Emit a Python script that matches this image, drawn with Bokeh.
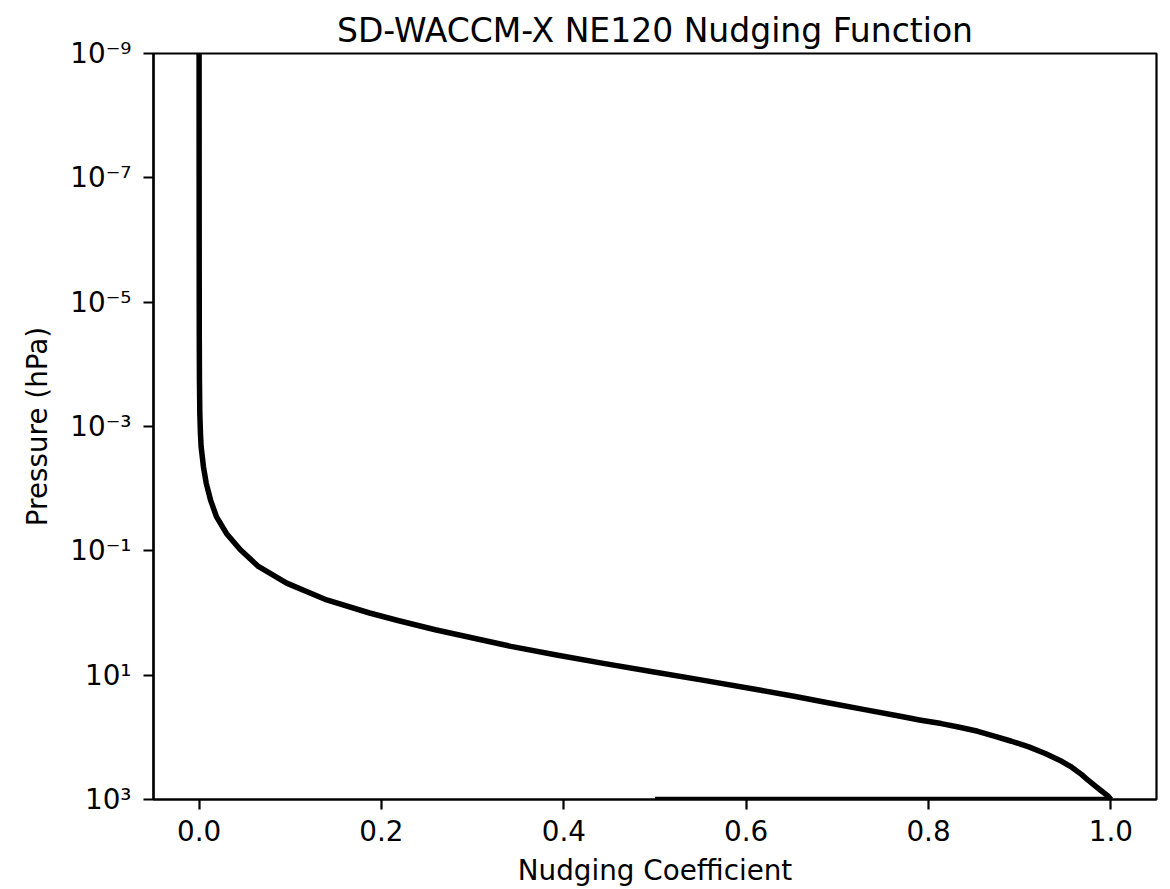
from bokeh.plotting import figure
from bokeh.models import Range1d, FixedTicker, CustomJSTickFormatter
from bokeh.embed import file_html
from bokeh.resources import INLINE

# ---------------- data ----------------
title_text = "SD-WACCM-X NE120 Nudging Function"
x_label = "Nudging Coefficient"
y_label = "Pressure (hPa)"

pressure_hpa = [1e-9, 1e-6, 3.16e-5, 1.78e-4, 6.17e-4, 1.29e-3, 2.09e-3, 4.47e-3,
                8.13e-3, 1.51e-2, 2.82e-2, 5.25e-2, 9.55e-2, 0.178, 0.331, 0.617,
                1.0, 1.32, 1.86, 3.44, 4.73, 6.53, 8.89, 12.0, 17.5, 22.1, 28.0,
                35.8, 45.9, 52.5, 60.1, 68.9, 80.0, 96.2, 115.6, 142.6, 182.4,
                242.7, 302.7, 398.1, 489.8, 610.9, 716.1, 885.1, 1000.0]
nudging_coef = [0.0, 0.0001, 0.0002, 0.0004, 0.0008, 0.0015, 0.0022, 0.0048,
                0.0078, 0.0125, 0.019, 0.030, 0.045, 0.065, 0.096, 0.140,
                0.187, 0.218, 0.259, 0.342, 0.392, 0.445, 0.499, 0.552, 0.616, 0.654, 0.691,
                0.730, 0.769, 0.790, 0.814, 0.834, 0.854, 0.873, 0.891, 0.910, 0.928,
                0.946, 0.957, 0.968, 0.975, 0.983, 0.989, 0.997, 1.0]

surface_coef = [0.5, 1.0]
surface_pressure = [1000.0, 1000.0]

x_ticks = [0.0, 0.2, 0.4, 0.6, 0.8, 1.0]
x_tick_labels = ["0.0", "0.2", "0.4", "0.6", "0.8", "1.0"]
y_ticks = [1e-9, 1e-7, 1e-5, 1e-3, 1e-1, 1e1, 1e3]
y_tick_labels = ["10\u207b\u2079", "10\u207b\u2077", "10\u207b\u2075", "10\u207b\u00b3",
                 "10\u207b\u00b9", "10\u00b9", "10\u00b3"]

# ---------------- figure ----------------
FONT = "DejaVu Sans"
p = figure(width=1170, height=889,
           x_range=Range1d(-0.05, 1.05), y_range=Range1d(1000, 1e-9),
           y_axis_type="log", output_backend="svg", toolbar_location=None,
           min_border_left=153, min_border_right=14, min_border_top=53,
           min_border_bottom=89, title=title_text)

p.title.text_font = FONT
p.title.text_font_size = "33px"
p.title.text_font_style = "normal"
p.title.text_color = "black"
p.title.align = "center"
p.title.standoff = 8

p.xgrid.visible = False
p.ygrid.visible = False
p.outline_line_color = "black"
p.outline_line_width = 2.2
p.outline_line_alpha = 1.0
p.background_fill_color = "white"
p.border_fill_color = "white"

x_fmt = CustomJSTickFormatter(args=dict(vals=x_ticks, labels=x_tick_labels), code="""
let b = 0;
for (let i = 0; i < vals.length; i++) {
  if (Math.abs(vals[i] - tick) < Math.abs(vals[b] - tick)) b = i;
}
return labels[b];
""")
y_fmt = CustomJSTickFormatter(args=dict(vals=y_ticks, labels=y_tick_labels), code="""
let b = 0;
const lt = Math.log10(tick);
for (let i = 0; i < vals.length; i++) {
  if (Math.abs(Math.log10(vals[i]) - lt) < Math.abs(Math.log10(vals[b]) - lt)) b = i;
}
return labels[b];
""")

p.xaxis.ticker = FixedTicker(ticks=x_ticks)
p.yaxis.ticker = FixedTicker(ticks=y_ticks)
p.xaxis.formatter = x_fmt
p.yaxis.formatter = y_fmt

for ax in (p.xaxis, p.yaxis):
    ax.axis_line_width = 2.2
    ax.axis_line_color = "black"
    ax.major_tick_line_width = 2.2
    ax.major_tick_line_color = "black"
    ax.major_tick_out = 10
    ax.major_tick_in = 0
    ax.minor_tick_line_color = None
    ax.major_label_text_font = FONT
    ax.major_label_text_font_size = "27.8px"
    ax.major_label_text_color = "black"
    ax.axis_label_text_font = FONT
    ax.axis_label_text_font_size = "27.8px"
    ax.axis_label_text_font_style = "normal"
    ax.axis_label_text_color = "black"

p.xaxis.axis_label = x_label
p.yaxis.axis_label = y_label
p.xaxis.major_label_standoff = 10
p.xaxis.axis_label_standoff = 10
p.yaxis.major_label_standoff = 12
p.yaxis.axis_label_standoff = 13

p.line(nudging_coef, pressure_hpa, line_color="black", line_width=5.5,
       line_join="round")
p.line(surface_coef, surface_pressure, line_color="black", line_width=5.5)

open("out.html", "w").write(file_html(p, INLINE))
